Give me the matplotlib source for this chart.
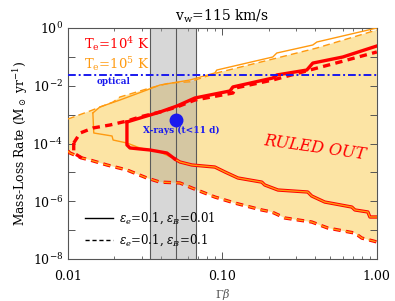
import matplotlib
matplotlib.use('Agg')
import matplotlib.pyplot as plt
from matplotlib.lines import Line2D
import numpy as np

plt.rcParams['font.family'] = ['DejaVu Serif']
plt.rcParams['mathtext.fontset'] = 'dejavuserif'

# --- data ---
# Te = 1e5 K, eps_B = 0.1 (dashed) : upper edge of the shaded region
or_dash_up_x = [0.0100, 0.0139, 0.0196, 0.0217, 0.034, 0.0458, 0.0616, 0.092, 0.225, 0.409, 1.0]
or_dash_up_y = [7.05e-4, 1.34e-3, 2.74e-3, 4.07e-3, 8.4e-3, 1.25e-2, 1.37e-2, 2.78e-2, 9.1e-2, 0.203, 0.853]

# common lower edge, eps_B = 0.1 (dashed)
dash_low_x = [0.0100, 0.0103, 0.0123, 0.0139, 0.0179, 0.0241, 0.0324, 0.0394, 0.0531, 0.0635,
              0.0894, 0.120, 0.180, 0.209, 0.254, 0.379, 0.482, 0.721, 0.800, 1.0]
dash_low_y = [5.5e-5, 4.69e-5, 3.15e-5, 2.68e-5, 1.8e-5, 1.21e-5, 6.4e-6, 4.6e-6, 4.3e-6, 2.88e-6,
              1.40e-6, 8.7e-7, 4.98e-7, 4.25e-7, 2.63e-7, 1.91e-7, 1.18e-7, 7.9e-8, 5.3e-8, 3.9e-8]

# common lower edge, eps_B = 0.01 (solid)
solid_low_x = [0.0493, 0.0531, 0.0635, 0.0894, 0.104, 0.126, 0.180, 0.188, 0.229, 0.357, 0.379,
               0.460, 0.689, 0.721, 0.875, 0.902, 1.0]
solid_low_y = [2.9e-5, 2.29e-5, 1.8e-5, 1.53e-5, 1.03e-5, 6.4e-6, 4.6e-6, 3.66e-6, 2.45e-6, 2.09e-6,
               1.52e-6, 9.4e-7, 6.3e-7, 5.0e-7, 4.25e-7, 2.85e-7, 2.85e-7]

# Te = 1e5 K, eps_B = 0.01 (solid orange): upper edge and nose
or_sol_up_x = [0.0145, 0.0161, 0.0217, 0.0324, 0.0394, 0.0616, 0.0894, 0.092, 0.212, 0.225, 0.385, 0.409, 1.0]
or_sol_up_y = [1.14e-3, 1.84e-3, 3.2e-3, 7.1e-3, 1.06e-2, 1.58e-2, 2.78e-2, 3.5e-2, 9.9e-2, 0.136, 0.258, 0.327, 1.0]
or_sol_nose_x = [0.0145, 0.0147, 0.0193, 0.0196, 0.0241, 0.0292, 0.0394, 0.0493]
or_sol_nose_y = [1.14e-3, 2.31e-4, 1.82e-4, 1.32e-4, 1.04e-4, 7.0e-5, 5.08e-5, 2.9e-5]

# Te = 1e4 K, eps_B = 0.01 (solid red)
red_sol_up_x = [0.0241, 0.0292, 0.0394, 0.0508, 0.0664, 0.112, 0.117, 0.212, 0.225, 0.352, 0.385, 0.602, 1.0]
red_sol_up_y = [5.56e-4, 7.6e-4, 1.23e-3, 1.99e-3, 3.77e-3, 6.6e-3, 9.1e-3, 1.85e-2, 2.36e-2, 3.5e-2, 6.1e-2, 9.9e-2, 0.238]
red_sol_nose_x = [0.0241, 0.0241, 0.0252, 0.034, 0.0437, 0.0493]
red_sol_nose_y = [5.56e-4, 8.9e-5, 7.0e-5, 5.96e-5, 4.69e-5, 2.9e-5]

# Te = 1e4 K, eps_B = 0.1 (dashed red)
red_dash_up_x = [0.0109, 0.0120, 0.0145, 0.0187, 0.0241, 0.0292, 0.0394, 0.0508, 0.0664, 0.117, 0.122,
                 0.212, 0.368, 0.576, 1.0]
red_dash_up_y = [1.04e-4, 2.31e-4, 3.44e-4, 4.37e-4, 6.0e-4, 8.3e-4, 1.23e-3, 1.84e-3, 3.2e-3, 5.6e-3, 8.4e-3,
                 1.58e-2, 3.5e-2, 6.65e-2, 0.148]
red_dash_nose_x = [0.0109, 0.0109, 0.0123]
red_dash_nose_y = [1.04e-4, 4.69e-5, 3.15e-5]

optical_rate = 2.35e-2
band_lo, band_mid, band_hi = 0.034, 0.05, 0.0675
xray_x, xray_y = 0.05, 6.5e-4

RED = '#ff0000'
ORANGE = '#ff9a10'
BLUE = '#1a1aee'
DASH_THICK = (0, (2.2, 1.6))
DASH_THIN = (0, (5.3, 3.8))

fig = plt.figure(figsize=(3.95, 3.01), dpi=100)
ax = fig.add_axes([0.172, 0.1395, 0.782, 0.7675])
ax.set_xscale('log')
ax.set_yscale('log')
ax.set_xlim(0.01, 1.0)
ax.set_ylim(1e-8, 1.0)

# shaded ruled-out region
fx = list(or_dash_up_x) + list(dash_low_x[::-1])
fy = list(or_dash_up_y) + list(dash_low_y[::-1])
ax.fill(fx, fy, color='#fce4a4', lw=0, zorder=1)

# gray band
ax.axvspan(band_lo, band_hi, color='#a0a0a0', alpha=0.42, lw=0, zorder=2)
for xv in (band_lo, band_mid, band_hi):
    ax.axvline(xv, color='#5a5a5a', lw=0.8, zorder=2.5)

# lower edges (red thick under, orange thin on top)
ax.plot(solid_low_x, solid_low_y, '-', color=RED, lw=2.4, zorder=3)
ax.plot(solid_low_x, solid_low_y, '-', color=ORANGE, lw=1.0, zorder=4)
ax.plot(dash_low_x, dash_low_y, color=RED, lw=2.4, ls=DASH_THICK, zorder=3)
ax.plot(dash_low_x, dash_low_y, color=ORANGE, lw=1.0, ls=DASH_THIN, zorder=4)

# orange (Te=1e5)
ax.plot(or_sol_up_x, or_sol_up_y, '-', color=ORANGE, lw=1.0, zorder=4)
ax.plot(or_sol_nose_x, or_sol_nose_y, '-', color=ORANGE, lw=1.0, zorder=4)
ax.plot(or_dash_up_x, or_dash_up_y, color=ORANGE, lw=1.0, ls=(0, (5, 3)), zorder=4)

# red (Te=1e4)
ax.plot(red_sol_up_x, red_sol_up_y, '-', color=RED, lw=2.4, zorder=5)
ax.plot(red_sol_nose_x, red_sol_nose_y, '-', color=RED, lw=2.4, zorder=5)
ax.plot(red_dash_up_x, red_dash_up_y, color=RED, lw=2.4, ls=DASH_THICK, zorder=5)
ax.plot(red_dash_nose_x, red_dash_nose_y, color=RED, lw=2.4, ls=DASH_THICK, zorder=5)

# optical limit
ax.axhline(optical_rate, color=BLUE, lw=1.4, ls=(0, (4, 1.5, 1, 1.5)), zorder=6)
ax.text(0.0154, 1.45e-2, 'optical', color=BLUE, fontsize=6.3, fontweight='bold', va='center', zorder=7)

# X-ray point
ax.plot([xray_x], [xray_y], 'o', color=BLUE, ms=9, zorder=7)
ax.text(0.0308, 2.8e-4, 'X-rays (t<11 d)', color=BLUE, fontsize=6.5, fontweight='bold', va='center', zorder=7)

# labels in the panel
ax.text(0.0128, 0.28, r'T$_\mathrm{e}$=10$^4$ K', color=RED, fontsize=9.5, va='center', zorder=7)
ax.text(0.0128, 0.058, r'T$_\mathrm{e}$=10$^5$ K', color=ORANGE, fontsize=9.5, va='center', zorder=7)
ax.text(0.40, 7.0e-5, 'RULED OUT', color=RED, fontsize=11.5, style='italic', rotation=-8,
        ha='center', va='center', zorder=7)

handles = [Line2D([], [], color='black', lw=1.0, ls='-'),
           Line2D([], [], color='black', lw=1.0, ls=(0, (3, 2)))]
ax.legend(handles, [r'$\epsilon_e$=0.1, $\epsilon_B$=0.01', r'$\epsilon_e$=0.1, $\epsilon_B$=0.1'],
          loc='lower left', bbox_to_anchor=(0.02, 0.0), frameon=False, fontsize=8.5,
          handlelength=2.4, handletextpad=0.5, labelspacing=0.55)

ax.set_title(r'v$_\mathrm{w}$=115 km/s', fontsize=10, pad=5)
ax.set_xlabel(r'$\Gamma\beta$', fontsize=8, color='#555555', labelpad=3)
ax.set_ylabel(r'Mass-Loss Rate (M$_\odot$ yr$^{-1}$)', fontsize=8.8, labelpad=2)

ax.set_xticks([0.01, 0.1, 1.0])
ax.set_xticklabels(['0.01', '0.10', '1.00'])
ax.set_yticks([10.0**k for k in range(-8, 1)])
ax.set_yticklabels([r'$10^{%d}$' % k if k % 2 == 0 else '' for k in range(-8, 1)])
ax.yaxis.set_minor_locator(matplotlib.ticker.NullLocator())
ax.tick_params(which='both', direction='in', top=True, right=True, labelsize=9, color='#555555')
ax.tick_params(which='major', length=5, width=0.7)
ax.tick_params(which='minor', length=2.5, width=0.6)
ax.tick_params(axis='x', pad=8)
for s in ax.spines.values():
    s.set_color('#555555')
    s.set_linewidth(0.8)

fig.savefig('out.png', dpi=100)
